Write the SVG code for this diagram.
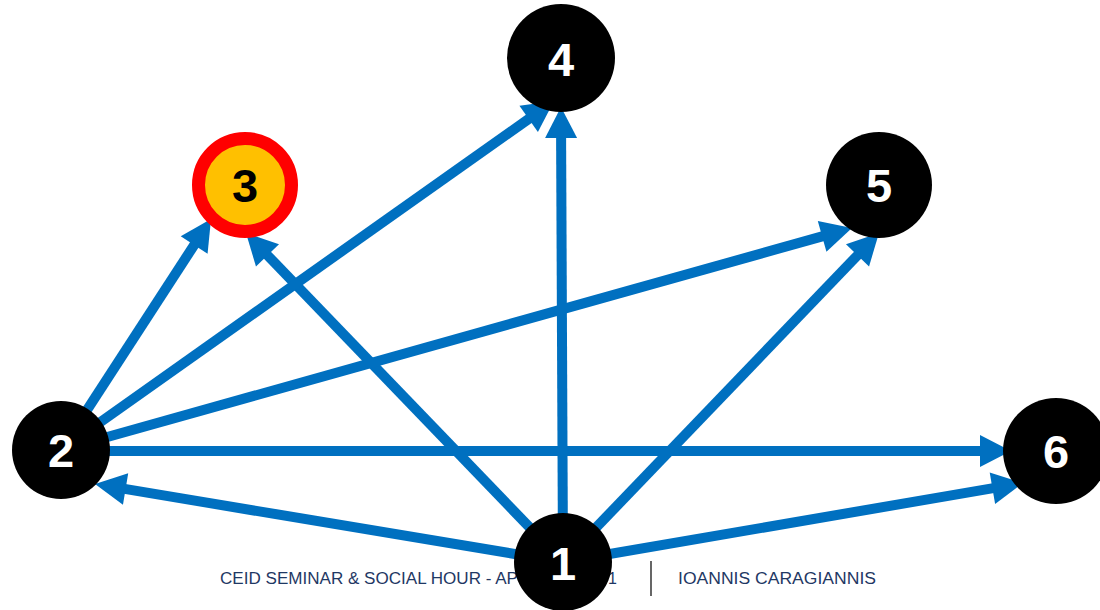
<svg xmlns="http://www.w3.org/2000/svg" width="1100" height="610" viewBox="0 0 1100 610">
<style>
.edge{stroke:#0070C0;stroke-width:10;fill:none;marker-end:url(#ah)}
.node{fill:#000}
.lbl{font-family:"Liberation Sans",Arial,sans-serif;font-weight:bold;font-size:47px;fill:#fff;text-anchor:middle}
.foot{font-family:"Liberation Sans",Arial,sans-serif;font-size:16px;fill:#1F3864}
</style>
<defs>
<marker id="ah" markerUnits="userSpaceOnUse" markerWidth="31" markerHeight="32" refX="0" refY="16" orient="auto" overflow="visible">
<path d="M-1,0 L30,16 L-1,32 Z" fill="#0070C0"/>
</marker>
</defs>
<rect width="1100" height="610" fill="#fff"/>
<g id="footer">
<text class="foot" x="220" y="584" textLength="298" lengthAdjust="spacingAndGlyphs">CEID SEMINAR &amp; SOCIAL HOUR - AP</text>
<text class="foot" x="608" y="584">1</text>
<line x1="651" y1="561" x2="651" y2="596" stroke="#000" stroke-width="1.2"/>
<text class="foot" x="678" y="584" textLength="198" lengthAdjust="spacingAndGlyphs">IOANNIS CARAGIANNIS</text>
</g>
<g id="connectors">
<line class="edge" x1="563" y1="562" x2="124.6" y2="488.9"/>
<line class="edge" x1="563" y1="562" x2="266.8" y2="254.6"/>
<line class="edge" x1="563" y1="562" x2="561.1" y2="137"/>
<line class="edge" x1="563" y1="562" x2="858.2" y2="254.6"/>
<line class="edge" x1="563" y1="562" x2="993.4" y2="488.1"/>
<line class="edge" x1="61" y1="450" x2="194.7" y2="244.2"/>
<line class="edge" x1="61" y1="450" x2="529.5" y2="118.3"/>
<line class="edge" x1="61" y1="450" x2="823.1" y2="236.1"/>
<line class="edge" x1="61" y1="451" x2="981" y2="451"/>
</g>
<g id="node1"><circle class="node" cx="563" cy="562" r="49"/><text class="lbl" x="563" y="580">1</text></g>
<g id="node2"><circle class="node" cx="61" cy="450" r="49"/><text class="lbl" x="61" y="467">2</text></g>
<g id="node3"><circle cx="245" cy="185" r="46.5" fill="#FFC000" stroke="#FF0000" stroke-width="13"/><text class="lbl" x="245" y="202" style="fill:#000">3</text></g>
<g id="node4"><circle class="node" cx="561" cy="58" r="54"/><text class="lbl" x="561" y="76">4</text></g>
<g id="node5"><circle class="node" cx="879" cy="185" r="53"/><text class="lbl" x="879" y="202">5</text></g>
<g id="node6"><circle class="node" cx="1056" cy="451" r="53"/><text class="lbl" x="1056" y="468">6</text></g>
</svg>
